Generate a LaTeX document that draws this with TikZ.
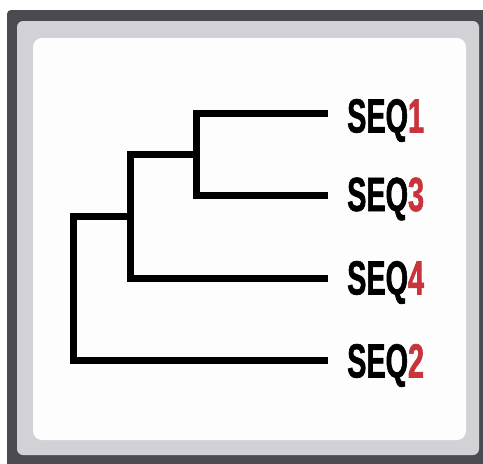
\documentclass[tikz,border=0pt]{standalone}
\usepackage{fontspec}
\newfontfamily\seqfont{Liberation Sans}[FakeStretch=0.6, FakeBold=1.2]
\definecolor{framedark}{HTML}{4A4A50}
\definecolor{framelight}{HTML}{D2D2D6}
\definecolor{panelwhite}{HTML}{FDFDFD}
\definecolor{seqred}{HTML}{C9343C}
\tikzset{
  branch/.style={line width=7pt, line join=miter, line cap=butt, black},
  seqlabel/.style={anchor=base west, inner sep=0pt, font=\seqfont\bfseries\fontsize{48pt}{48pt}\selectfont}
}
\begin{document}
\begin{tikzpicture}[x=1pt, y=-1pt]
\useasboundingbox (0,0) rectangle (483,464);
\clip (0,0) rectangle (483,464);
\fill[white] (0,0) rectangle (483,464);
\fill[framedark, rounded corners=4pt] (7,10) rectangle (495,476);
\fill[framelight, rounded corners=6pt] (17,21) rectangle (479,455);
\fill[panelwhite, rounded corners=9pt] (33,38) rectangle (466,440);

% leaf line ends
\coordinate (e1) at (328,113.5);
\coordinate (e3) at (328,195.5);
\coordinate (e4) at (328,278);
\coordinate (e2) at (328,360.5);
% internal nodes
\coordinate (n13) at (196.5,154.5);
\coordinate (n134) at (130,216);

\draw[branch] (e1) -| (n13) |- (e3);
\draw[branch] (n13) -- (130,154.5) |- (e4);
\draw[branch] (n134) -- (73.5,216) |- (e2);

\node[seqlabel] (s1) at (347,132.5) {SEQ\textcolor{seqred}{1}};
\node[seqlabel] (s3) at (347,211) {SEQ\textcolor{seqred}{3}};
\node[seqlabel] (s4) at (347,294.5) {SEQ\textcolor{seqred}{4}};
\node[seqlabel] (s2) at (347,377.5) {SEQ\textcolor{seqred}{2}};
\end{tikzpicture}
\end{document}
